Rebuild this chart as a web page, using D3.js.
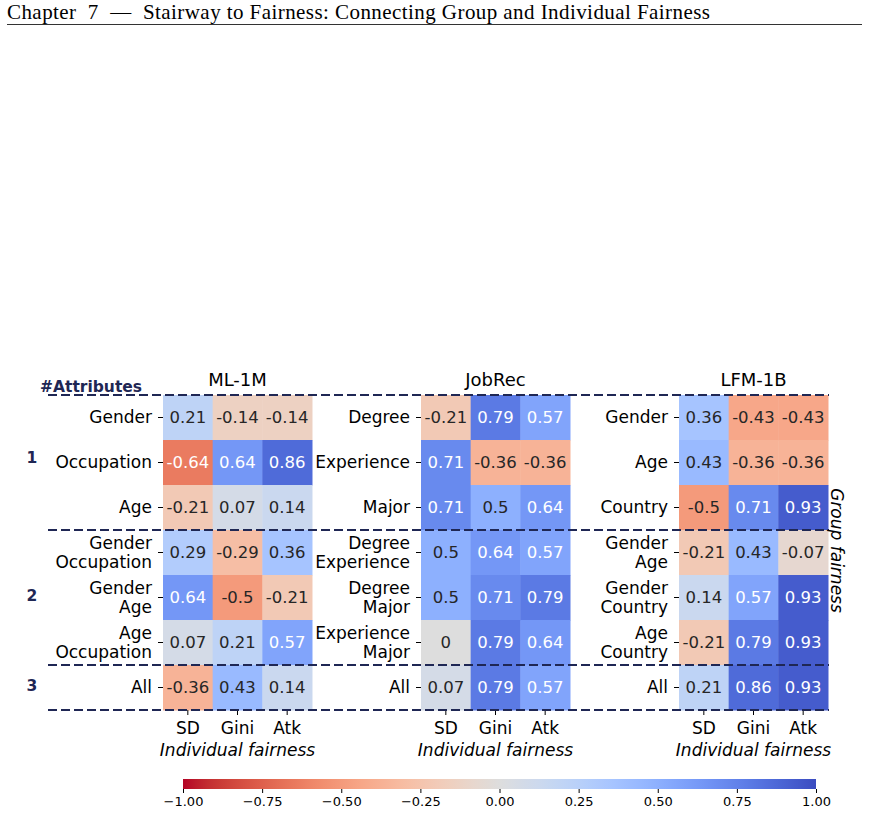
<!DOCTYPE html>
<html lang="en">
<head>
  <meta charset="UTF-8">
  <title>Stairway to Fairness</title>
  <script src="https://d3js.org/d3.v7.min.js"></script>
  <style>
    body {margin: 0; background: #fff;}
    svg text {font-family: "DejaVu Sans", sans-serif; fill: #000;}
    .header {font-family: "Liberation Serif", serif !important; font-size: 21px; white-space: pre;}
    .navy {fill: #1f2754 !important; font-weight: bold;}
  </style>
</head>
<body>
<div id="chart"></div>
<script>
const datasets = ["ML-1M", "JobRec", "LFM-1B"];
const metrics = ["SD", "Gini", "Atk"];
const attributeCounts = [1, 1, 1, 2, 2, 2, 3];

const ml1mRows = [["Gender"], ["Occupation"], ["Age"], ["Gender", "Occupation"], ["Gender", "Age"], ["Age", "Occupation"], ["All"]];
const ml1mValues = [
  [0.21, -0.14, -0.14],
  [-0.64, 0.64, 0.86],
  [-0.21, 0.07, 0.14],
  [0.29, -0.29, 0.36],
  [0.64, -0.5, -0.21],
  [0.07, 0.21, 0.57],
  [-0.36, 0.43, 0.14]
];

const jobrecRows = [["Degree"], ["Experience"], ["Major"], ["Degree", "Experience"], ["Degree", "Major"], ["Experience", "Major"], ["All"]];
const jobrecValues = [
  [-0.21, 0.79, 0.57],
  [0.71, -0.36, -0.36],
  [0.71, 0.5, 0.64],
  [0.5, 0.64, 0.57],
  [0.5, 0.71, 0.79],
  [0, 0.79, 0.64],
  [0.07, 0.79, 0.57]
];

const lfmRows = [["Gender"], ["Age"], ["Country"], ["Gender", "Age"], ["Gender", "Country"], ["Age", "Country"], ["All"]];
const lfmValues = [
  [0.36, -0.43, -0.43],
  [0.43, -0.36, -0.36],
  [-0.5, 0.71, 0.93],
  [-0.21, 0.43, -0.07],
  [0.14, 0.57, 0.93],
  [-0.21, 0.79, 0.93],
  [0.21, 0.86, 0.93]
];

const colorbarTicks = [-1, -0.75, -0.5, -0.25, 0, 0.25, 0.5, 0.75, 1];

// coolwarm (Moreland) control points, blue -> red
const coolwarm = [
  [59,76,192],[68,90,204],[77,104,215],[87,117,225],[98,130,234],[108,142,241],[119,154,247],
  [130,165,251],[141,176,254],[152,185,255],[163,194,255],[174,201,253],[184,208,249],[194,213,244],
  [204,217,238],[213,219,230],[221,221,221],[229,216,209],[236,211,197],[241,204,185],[245,196,173],
  [247,187,160],[247,177,148],[247,166,135],[244,154,123],[241,141,111],[236,127,99],[229,112,88],
  [222,96,77],[213,80,66],[203,62,56],[192,40,47],[180,4,38]
].map(c => d3.rgb(c[0], c[1], c[2]));

// reversed: +1 blue, -1 red
const color = d3.scaleLinear()
  .domain(coolwarm.map((c, i) => 1 - 2 * i / (coolwarm.length - 1)))
  .range(coolwarm)
  .interpolate(d3.interpolateRgb)
  .clamp(true);

function textColor(v) {
  const c = d3.rgb(color(v));
  const lin = x => { x /= 255; return x <= 0.03928 ? x / 12.92 : Math.pow((x + 0.055) / 1.055, 2.4); };
  const lum = 0.2126 * lin(c.r) + 0.7152 * lin(c.g) + 0.0722 * lin(c.b);
  return lum > 0.408 ? "#262626" : "#fff";
}

const width = 870, height = 818;
const navy = "#1f2754";

const svg = d3.select("#chart").append("svg")
  .attr("width", width)
  .attr("height", height);

// page header
svg.append("text")
  .attr("class", "header")
  .attr("x", 7)
  .attr("y", 19)
  .attr("textLength", 703)
  .attr("lengthAdjust", "spacing")
  .text("Chapter  7  —  Stairway to Fairness: Connecting Group and Individual Fairness");
svg.append("line")
  .attr("x1", 7).attr("x2", 862)
  .attr("y1", 24.5).attr("y2", 24.5)
  .attr("stroke", "#333").attr("stroke-width", 1);

const panelX = d3.scaleBand()
  .domain(datasets)
  .range([163, 828])
  .paddingInner(0.4225);

const y = d3.scaleBand()
  .domain(d3.range(attributeCounts.length))
  .range([395, 710]);

const panels = [
  { name: "ML-1M", rows: ml1mRows, values: ml1mValues },
  { name: "JobRec", rows: jobrecRows, values: jobrecValues },
  { name: "LFM-1B", rows: lfmRows, values: lfmValues }
];

panels.forEach(p => {
  const x = d3.scaleBand()
    .domain(metrics)
    .range([panelX(p.name), panelX(p.name) + panelX.bandwidth()]);
  const g = svg.append("g");

  const cells = p.values.flatMap((row, i) => row.map((v, j) => ({ i, m: metrics[j], v })));

  g.selectAll("rect")
    .data(cells)
    .enter()
    .append("rect")
    .attr("x", d => x(d.m))
    .attr("y", d => y(d.i))
    .attr("width", x.bandwidth() + 0.5)
    .attr("height", y.bandwidth() + 0.5)
    .attr("fill", d => color(d.v));

  g.selectAll(".cell-label")
    .data(cells)
    .enter()
    .append("text")
    .attr("class", "cell-label")
    .attr("x", d => x(d.m) + x.bandwidth() / 2)
    .attr("y", d => y(d.i) + y.bandwidth() / 2)
    .attr("dy", "0.36em")
    .attr("text-anchor", "middle")
    .style("font-size", "16.5px")
    .style("fill", d => textColor(d.v))
    .text(d => String(d.v));

  // row labels with ticks
  const left = g.append("g")
    .attr("transform", `translate(${x.range()[0]},0)`)
    .call(d3.axisLeft(y).tickSize(5).tickPadding(6).tickFormat(""));
  left.select(".domain").remove();
  left.selectAll(".tick line").attr("stroke", "#000").attr("stroke-width", 1);
  left.selectAll(".tick text").remove();
  left.selectAll(".tick").append("text")
    .attr("x", -11)
    .attr("text-anchor", "end")
    .style("font-size", "17px")
    .each(function(i) {
      const lines = p.rows[i];
      const t = d3.select(this);
      lines.forEach((l, k) => {
        t.append("tspan")
          .attr("x", -11)
          .attr("y", (k - (lines.length - 1) / 2) * 19)
          .attr("dy", "0.33em")
          .text(l);
      });
    });

  // column labels
  const bottom = g.append("g")
    .attr("transform", `translate(0,${y.range()[1]})`)
    .call(d3.axisBottom(x).tickSize(5).tickPadding(7));
  bottom.select(".domain").remove();
  bottom.selectAll(".tick line").attr("stroke", "#000").attr("stroke-width", 1);
  bottom.selectAll(".tick text")
    .style("font-size", "17px")
    .attr("fill", "#000");

  g.append("text")
    .attr("x", panelX(p.name) + panelX.bandwidth() / 2)
    .attr("y", 756)
    .attr("text-anchor", "middle")
    .style("font-size", "17px")
    .style("font-style", "italic")
    .text("Individual fairness");

  g.append("text")
    .attr("x", panelX(p.name) + panelX.bandwidth() / 2)
    .attr("y", 386)
    .attr("text-anchor", "middle")
    .style("font-size", "18px")
    .text(p.name);
});

// group separators
const bounds = [0, 3, 6, 7];
svg.selectAll(".sep")
  .data(bounds)
  .enter()
  .append("line")
  .attr("class", "sep")
  .attr("x1", 48).attr("x2", 829)
  .attr("y1", d => d === 7 ? y.range()[1] : y(d))
  .attr("y2", d => d === 7 ? y.range()[1] : y(d))
  .attr("stroke", navy)
  .attr("stroke-width", 2)
  .attr("stroke-dasharray", "9,4");

const groups = d3.groups(attributeCounts.map((c, i) => ({ c, i })), d => d.c);
svg.selectAll(".grp")
  .data(groups)
  .enter()
  .append("text")
  .attr("class", "grp navy")
  .attr("x", 32)
  .attr("y", d => (y(d[1][0].i) + y(d[1][d[1].length - 1].i) + y.bandwidth()) / 2)
  .attr("dy", d => d[0] === 1 ? "0.05em" : "0.22em")
  .attr("text-anchor", "middle")
  .style("font-size", "15.5px")
  .text(d => d[0]);

svg.append("text")
  .attr("class", "navy")
  .attr("x", 40)
  .attr("y", 392)
  .style("font-size", "15.5px")
  .text("#Attributes");

// group fairness label
svg.append("text")
  .attr("transform", `translate(831,${(y.range()[0] + y.range()[1]) / 2 - 2}) rotate(90)`)
  .attr("text-anchor", "middle")
  .style("font-size", "17px")
  .style("font-style", "italic")
  .text("Group fairness");

// colorbar
const cb = d3.scaleLinear().domain([-1, 1]).range([183, 816]);
const grad = svg.append("defs").append("linearGradient").attr("id", "cbgrad");
grad.selectAll("stop")
  .data(d3.range(0, 1.0001, 0.02))
  .enter()
  .append("stop")
  .attr("offset", d => d)
  .attr("stop-color", d => color(-1 + 2 * d));
svg.append("rect")
  .attr("x", cb(-1)).attr("y", 779)
  .attr("width", cb(1) - cb(-1)).attr("height", 10)
  .attr("fill", "url(#cbgrad)");
const cbAxis = svg.append("g")
  .attr("transform", "translate(0,789)")
  .call(d3.axisBottom(cb).tickValues(colorbarTicks).tickFormat(d3.format(".2f")).tickSize(4).tickPadding(4));
cbAxis.select(".domain").remove();
cbAxis.selectAll(".tick line").attr("stroke", "#000");
cbAxis.selectAll(".tick text").style("font-size", "13px").attr("fill", "#000");
</script>
</body>
</html>
